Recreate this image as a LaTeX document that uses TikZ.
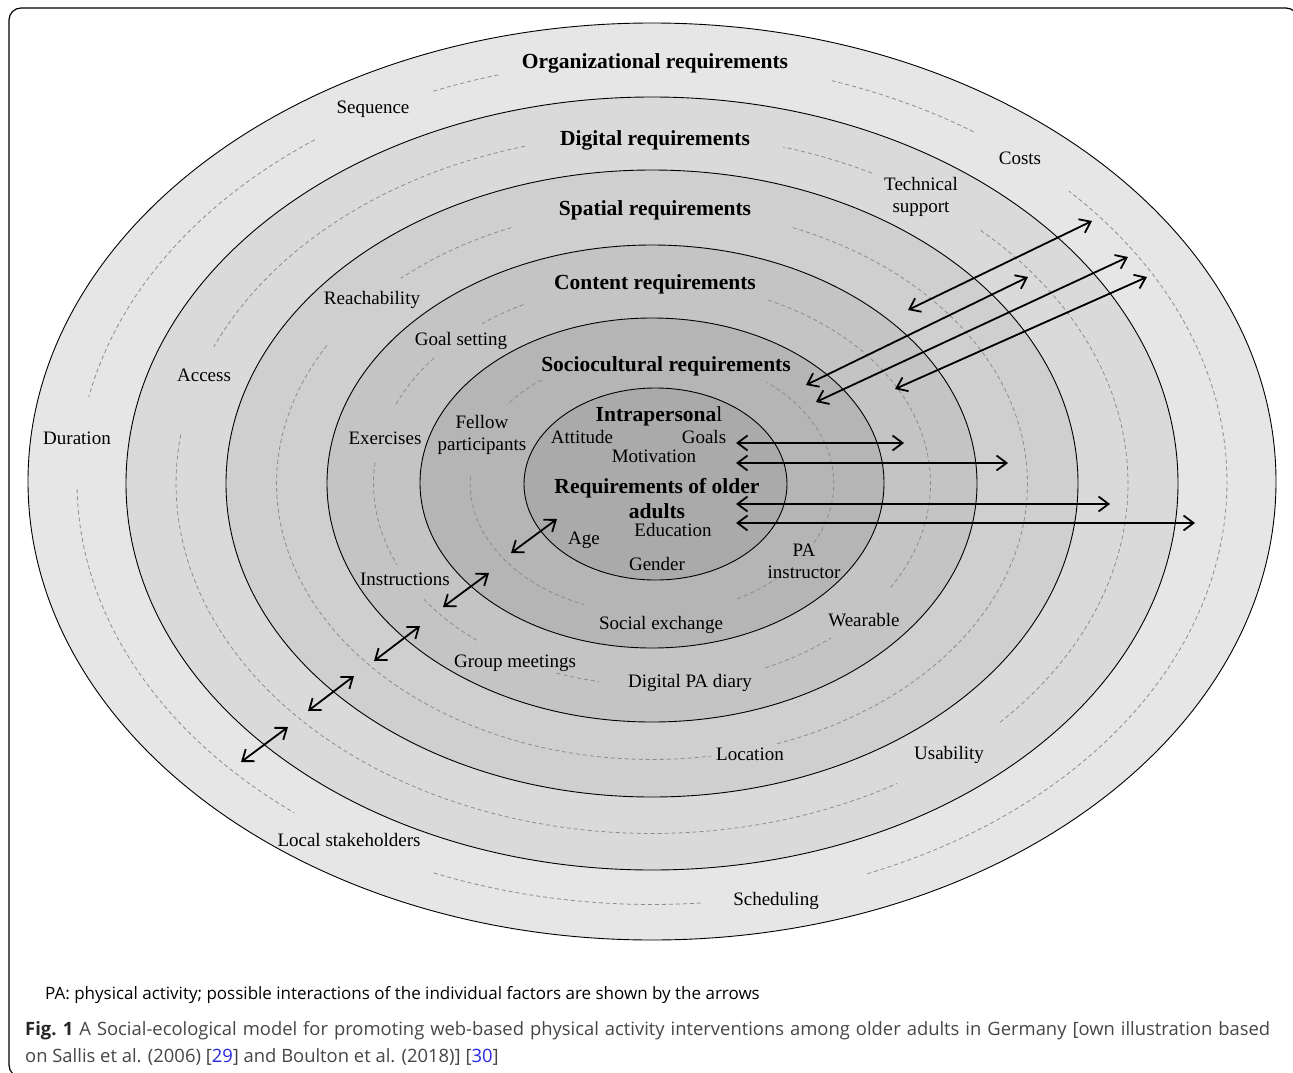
\documentclass[tikz,border=0pt]{standalone}
\usepackage{fontspec}
\setmainfont{Liberation Serif}
\newfontfamily\capfont{Open Sans}
\usetikzlibrary{arrows.meta}
\definecolor{ringA}{RGB}{230,230,230}
\definecolor{ringB}{RGB}{218,218,218}
\definecolor{ringC}{RGB}{207,207,207}
\definecolor{ringD}{RGB}{196,196,196}
\definecolor{ringE}{RGB}{181,181,181}
\definecolor{ringF}{RGB}{170,170,170}
\definecolor{dashgray}{RGB}{140,140,140}
\definecolor{capgray}{RGB}{70,70,70}
\definecolor{linkblue}{RGB}{40,40,225}
\newcommand\ringdash[6]{\draw[dsh] plot[domain=#5:#6, samples=80, variable=\t] ({#1+#3*cos(\t)},{#2-#4*sin(\t)});}
\begin{document}
\begin{tikzpicture}[x=1pt,y=-1pt,
  lbl/.style={font=\fontsize{19}{22}\selectfont, inner sep=0pt, align=center},
  ttl/.style={font=\fontsize{21.5}{25}\selectfont\bfseries, inner sep=0pt, align=center},
  onel/.style={text height=16pt, text depth=1pt},
  onet/.style={text height=17.5pt, text depth=1.5pt},
  ring/.style={draw=black, line width=0.9pt},
  dsh/.style={draw=dashgray, line width=0.8pt, dash pattern=on 4pt off 3pt},
  dbl/.style={line width=1.8pt, {Straight Barb[length=10pt,width=15pt]}-{Straight Barb[length=10pt,width=15pt]}}
]
\useasboundingbox (0,0) rectangle (1293,1073);
\clip (0,0) rectangle (1293,1073);
\fill[white] (0,0) rectangle (1293,1073);
\draw[line width=1.2pt, rounded corners=12pt] (9,8) rectangle (1298,1077);

% rings
\path[ring, fill=ringA] (652,481.5) ellipse [x radius=624, y radius=458.5];
\path[ring, fill=ringB] (652,483.5) ellipse [x radius=526, y radius=386.5];
\path[ring, fill=ringC] (652,483.5) ellipse [x radius=426, y radius=313.5];
\path[ring, fill=ringD] (652,483.5) ellipse [x radius=325, y radius=238.5];
\path[ring, fill=ringE] (652,483) ellipse [x radius=232, y radius=165];
\path[ring, fill=ringF] (655.5,484) ellipse [x radius=131.5, y radius=96];

% dashed arcs, ring 1
\ringdash{652}{482}{575}{422.5}{105.5}{112.6}
\ringdash{652}{482}{575}{422.5}{125.9}{168.4}
\ringdash{652}{482}{575}{422.5}{181}{231.5}
\ringdash{652}{482}{575}{422.5}{247.7}{275}
\ringdash{652}{482}{575}{422.5}{56}{72}
\ringdash{652}{482}{575}{422.5}{-68}{43.5}
% ring 2
\ringdash{652}{483.5}{476}{350}{105.5}{157}
\ringdash{652}{483.5}{476}{350}{172}{301}
\ringdash{652}{483.5}{476}{350}{-43}{46.5}
\ringdash{652}{483.5}{476}{350}{62.5}{74}
% ring 3
\ringdash{652}{483.5}{375.5}{276}{112}{132}
\ringdash{652}{483.5}{375.5}{276}{150}{279}
\ringdash{652}{483.5}{375.5}{276}{-70.5}{68}
% ring 4
\ringdash{652}{483.5}{278.5}{201.75}{117.5}{127.6}
\ringdash{652}{483.5}{278.5}{201.75}{141.5}{157}
\ringdash{652}{483.5}{278.5}{201.75}{174}{203.7}
\ringdash{652}{483.5}{278.5}{201.75}{215}{231.5}
\ringdash{652}{483.5}{278.5}{201.75}{250}{259}
\ringdash{652}{483.5}{278.5}{201.75}{-66}{-50}
\ringdash{652}{483.5}{278.5}{201.75}{-31}{66}
% ring 5
\ringdash{652}{483.5}{181.75}{130.5}{127.5}{143}
\ringdash{652}{483.5}{181.75}{130.5}{177}{248}
\ringdash{652}{483.5}{181.75}{130.5}{-62}{-46}
\ringdash{652}{483.5}{181.75}{130.5}{-27}{51}

% titles
\node[ttl,onet] (org) at (655,60) {Organizational requirements};
\node[ttl,onet] (dig) at (655,137) {Digital requirements};
\node[ttl,onet] (spa) at (655,207) {Spatial requirements};
\node[ttl,onet] (con) at (655,281) {Content requirements};
\node[ttl,onet] (soc) at (666,363) {Sociocultural requirements};
\node[ttl,onet] (intra) at (659,413) {Intrapersona\mdseries l};
\node[ttl] (req) at (657,499) {Requirements of older\\adults};

% labels
\node[lbl,onel] (seq) at (373,106) {Sequence};
\node[lbl,onel] (costs) at (1020,157) {Costs};
\node[lbl] (tech) at (921,196.5) {Technical\\support};
\node[lbl,onel] (reach) at (372,297) {Reachability};
\node[lbl,onel] (goal) at (461,338) {Goal setting};
\node[lbl,onel] (access) at (204,374) {Access};
\node[lbl,onel] (dur) at (77,437) {Duration};
\node[lbl,onel] (exer) at (385,437) {Exercises};
\node[lbl] (fellow) at (482,435) {Fellow\\participants};
\node[lbl,onel] (att) at (582,436) {Attitude};
\node[lbl,onel] (goals) at (704,436) {Goals};
\node[lbl,onel] (mot) at (654,455) {Motivation};
\node[lbl,onel] (edu) at (673,529) {Education};
\node[lbl,onel] (age) at (584,537) {Age};
\node[lbl] (pa) at (804,561.5) {PA\\instructor};
\node[lbl,onel] (gender) at (657,563) {Gender};
\node[lbl,onel] (instr) at (405,578) {Instructions};
\node[lbl,onel] (socex) at (661,622) {Social exchange};
\node[lbl,onel] (wear) at (864,619) {Wearable};
\node[lbl,onel] (group) at (515,660) {Group meetings};
\node[lbl,onel] (diary) at (690,680) {Digital PA diary};
\node[lbl,onel] (loc) at (750,753) {Location};
\node[lbl,onel] (usab) at (949,752) {Usability};
\node[lbl,onel] (local) at (349,839) {Local stakeholders};
\node[lbl,onel] (sched) at (776,898) {Scheduling};

% arrow end points
\coordinate (a1s) at (736,443); \coordinate (a1e) at (904,443);
\coordinate (a2s) at (736,463); \coordinate (a2e) at (1008,463);
\coordinate (a3s) at (736,504); \coordinate (a3e) at (1110,504);
\coordinate (a4s) at (736,523); \coordinate (a4e) at (1195,523);
\coordinate (b1s) at (908,310); \coordinate (b1e) at (1092,221);
\coordinate (b2s) at (806,385); \coordinate (b2e) at (1028,277);
\coordinate (b3s) at (816,402); \coordinate (b3e) at (1128,257);
\coordinate (b4s) at (895,389); \coordinate (b4e) at (1147,277);
\coordinate (c1s) at (511,553); \coordinate (c1e) at (557,519);
\coordinate (c2s) at (443,607); \coordinate (c2e) at (489,573);
\coordinate (c3s) at (374,661); \coordinate (c3e) at (420,626);
\coordinate (c4s) at (308,711); \coordinate (c4e) at (354,676);
\coordinate (c5s) at (241,762); \coordinate (c5e) at (288,727);
\foreach \k in {a1,a2,a3,a4,b1,b2,b3,b4,c1,c2,c3,c4,c5} \draw[dbl] (\k s) -- (\k e);

% caption
\node[anchor=base west, inner sep=0pt, font=\capfont\fontsize{17}{20}\selectfont] (note) at (45,999) {PA: physical activity; possible interactions of the individual factors are shown by the arrows};
\node[anchor=base west, inner sep=0pt, text=capgray, font=\capfont\fontsize{18.4}{26}\selectfont] (cap1) at (25,1035) {\makebox[1245pt][s]{\mbox{\textbf{\color{black!85}Fig. 1}} A Social-ecological model for promoting web-based physical activity interventions among older adults in Germany [own illustration based}};
\node[anchor=base west, inner sep=0pt, text=capgray, font=\capfont\fontsize{18.4}{26}\selectfont] (cap2) at (25,1062) {on Sallis et al. (2006) [\textcolor{linkblue}{29}] and Boulton et al. (2018)] [\textcolor{linkblue}{30}]};
\end{tikzpicture}
\end{document}
